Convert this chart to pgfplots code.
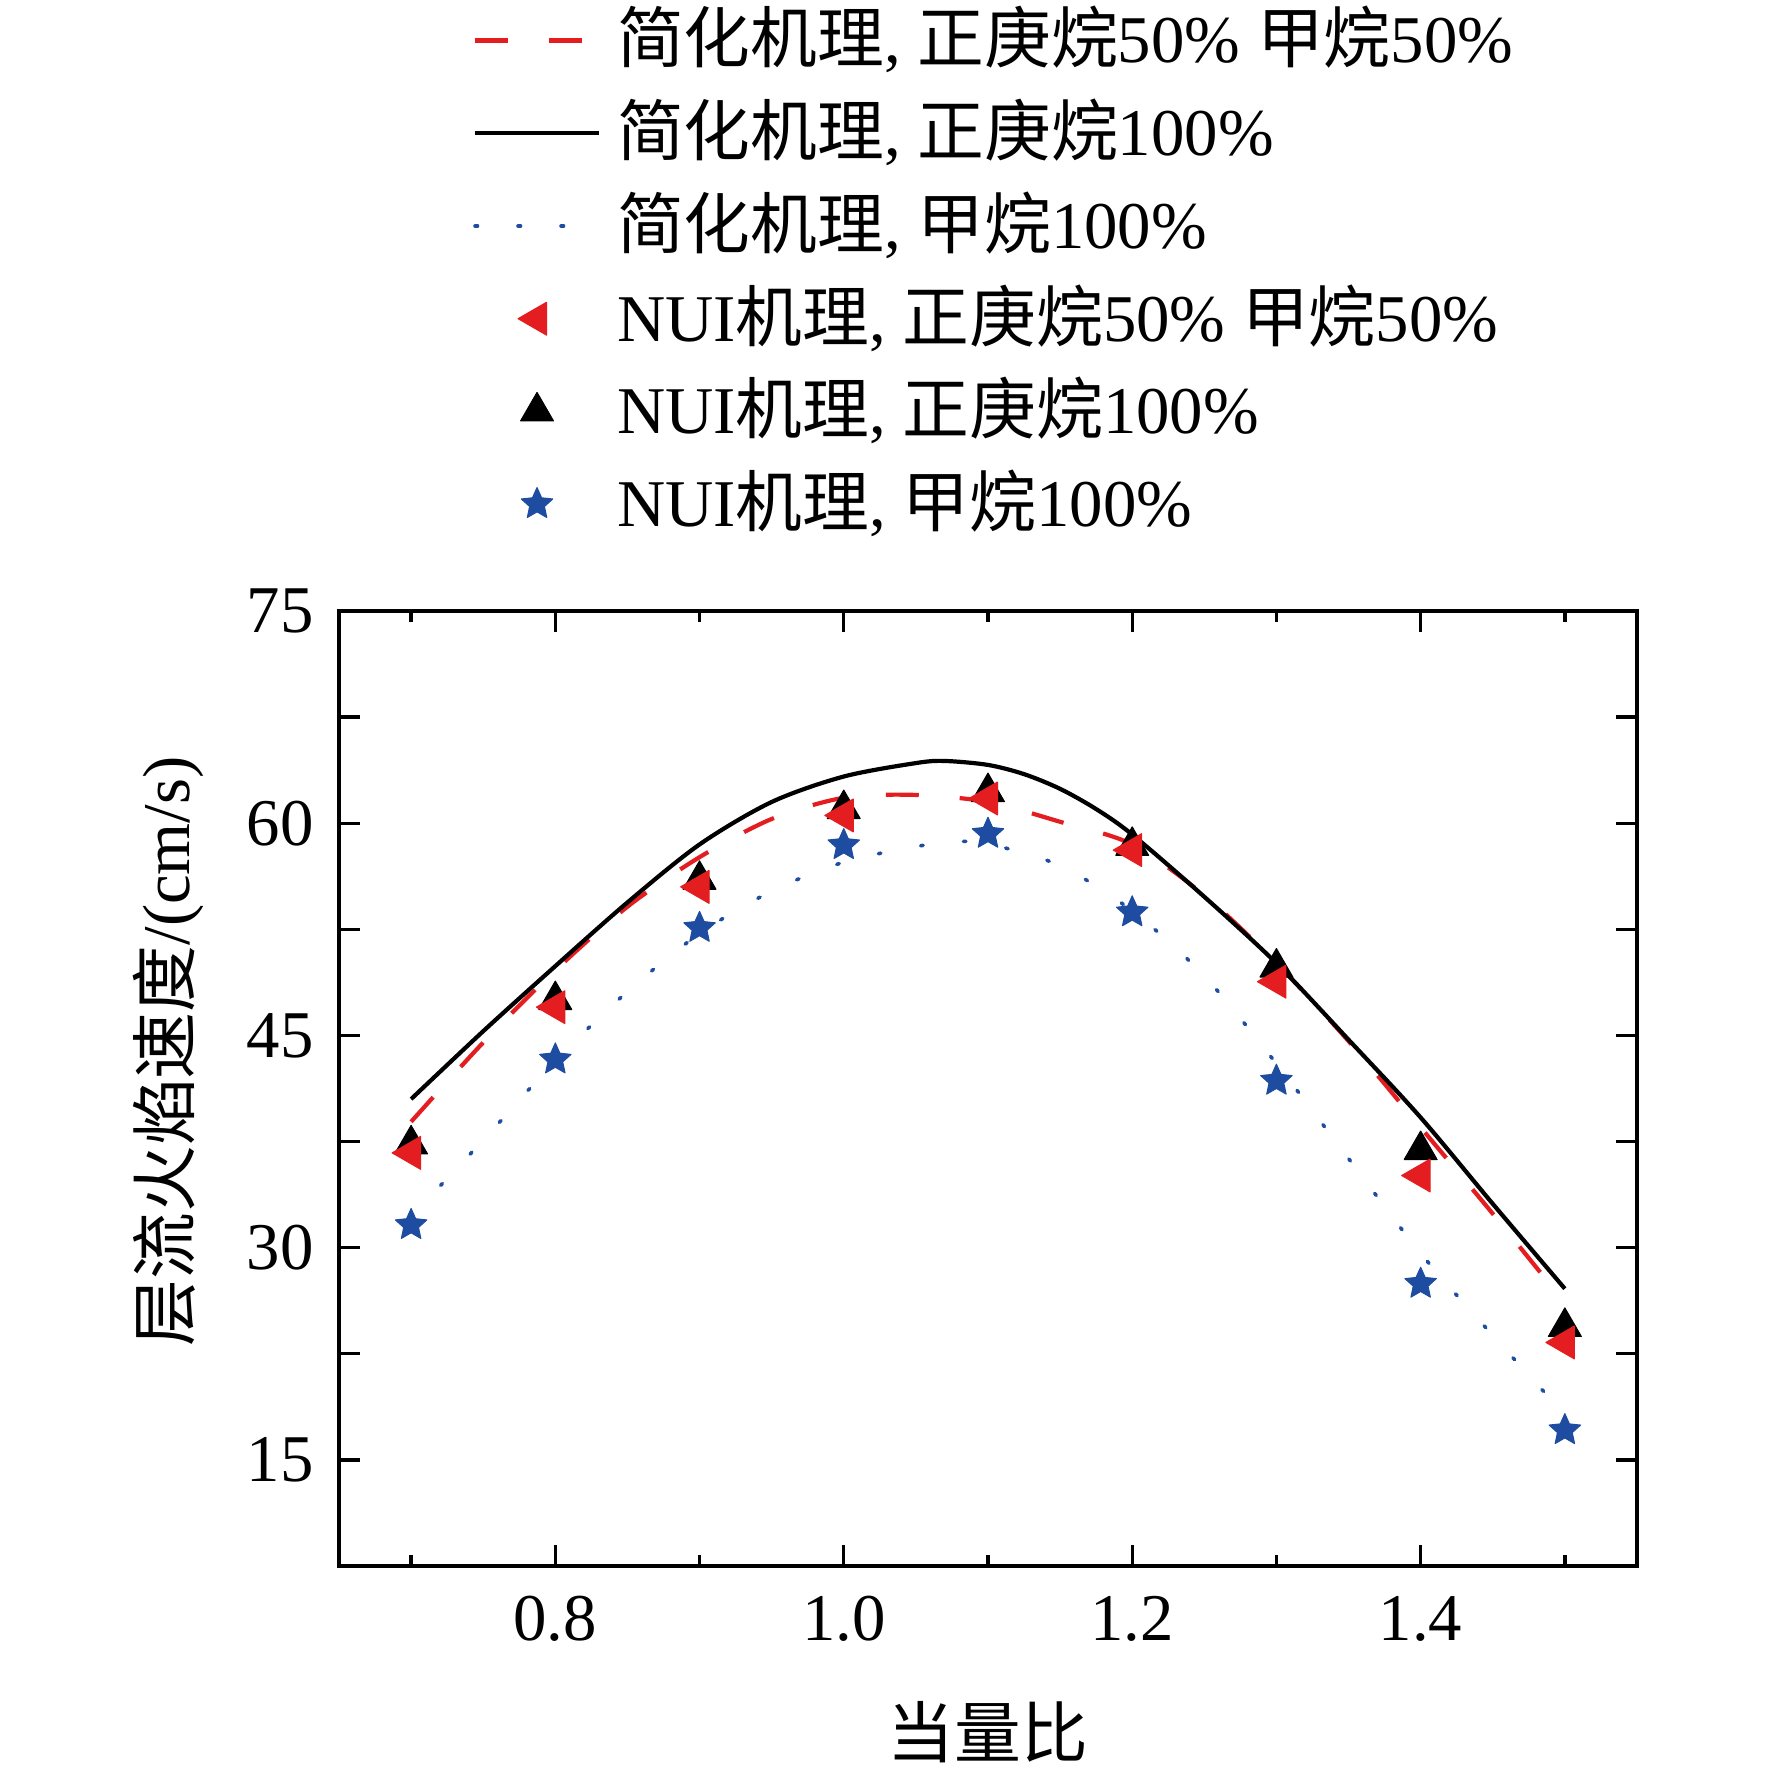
\documentclass[border=0pt]{standalone}
\usepackage{fontspec}
\setmainfont{Liberation Serif}
\newfontfamily\cjk{Noto Sans CJK SC}
\usepackage{pgfplots}
\pgfplotsset{compat=1.18}
\usetikzlibrary{plotmarks}
\definecolor{myred}{RGB}{228,30,32}
\definecolor{myblue}{RGB}{30,76,160}
\pgfdeclareplotmark{fstar}{%
  \pgfpathmoveto{\pgfpointpolar{90}{\pgfplotmarksize}}%
  \pgfpathlineto{\pgfpointpolar{126}{0.47\pgfplotmarksize}}%
  \pgfpathlineto{\pgfpointpolar{162}{\pgfplotmarksize}}%
  \pgfpathlineto{\pgfpointpolar{198}{0.47\pgfplotmarksize}}%
  \pgfpathlineto{\pgfpointpolar{234}{\pgfplotmarksize}}%
  \pgfpathlineto{\pgfpointpolar{270}{0.47\pgfplotmarksize}}%
  \pgfpathlineto{\pgfpointpolar{306}{\pgfplotmarksize}}%
  \pgfpathlineto{\pgfpointpolar{342}{0.47\pgfplotmarksize}}%
  \pgfpathlineto{\pgfpointpolar{18}{\pgfplotmarksize}}%
  \pgfpathlineto{\pgfpointpolar{54}{0.47\pgfplotmarksize}}%
  \pgfpathclose
  \pgfusepathqfillstroke
}
\pgfplotsset{
  mylegline/.style={legend image code/.code={\draw[##1] (0mm,0mm) -- (12.4mm,0mm);}},
  mylegmark/.style={legend image code/.code={\draw[##1] plot coordinates {(6.2mm,0mm)};}},
}
\begin{document}
\begin{tikzpicture}[font=\fontsize{19pt}{22pt}\selectfont]
\begin{axis}[
  at={(0,0)}, anchor=south west,
  scale only axis, width=129.8mm, height=95.5mm,
  xmin=0.65, xmax=1.55, ymin=7.5, ymax=75,
  xtick={0.8,1.0,1.2,1.4}, xticklabels={0.8,1.0,1.2,1.4},
  minor xtick={0.7,0.9,1.1,1.3,1.5},
  ytick={7.5,15,22.5,30,37.5,45,52.5,60,67.5,75},
  yticklabels={,15,,30,,45,,60,,75},
  tick align=inside,
  major tick length=2.1mm, minor tick length=1.1mm,
  tick style={black, line width=0.33mm},
  axis line style={line width=0.4mm},
  xticklabel style={yshift=-1.8mm},
  yticklabel style={xshift=-1.3mm},
  xlabel={\cjk 当量比},
  ylabel={{\cjk 层流火焰速度}/(cm/s)},
  xlabel style={at={(axis description cs:0.5,-0.174)}, anchor=center},
  ylabel style={at={(axis description cs:-0.1317,0.539)}, anchor=center},
  mylegline,
  legend cell align=left,
  legend style={draw=none, fill=none, inner sep=0pt, outer sep=0pt,
    at={(axis description cs:0.1032,1.6458)}, anchor=north west,
    row sep=0pt, column sep=1.6mm,
    nodes={inner sep=0pt, text height=6.87mm, text depth=2.40mm}},
]
% simplified mechanism, n-heptane 50% / methane 50%
\addplot[myred, line width=0.42mm, dash pattern=on 3.3mm off 4.1mm, smooth] coordinates {
(0.70,38.9) (0.75,44.5) (0.80,49.6) (0.85,54.1) (0.90,57.6) (0.95,60.3)
(1.00,61.8) (1.05,62.0) (1.10,61.5) (1.15,60.1) (1.20,58.5) (1.25,54.9)
(1.30,50.1) (1.35,44.6) (1.40,38.5) (1.45,32.4) (1.50,26.1)};
\addlegendentry{{\cjk 简化机理}, {\cjk 正庚烷}50\% {\cjk 甲烷}50\%}
% simplified mechanism, n-heptane 100%
\addplot[black, line width=0.42mm, smooth] coordinates {
(0.70,40.5) (0.75,45.3) (0.80,49.9) (0.85,54.4) (0.90,58.5) (0.95,61.5)
(1.00,63.3) (1.05,64.25) (1.07,64.4) (1.10,64.12) (1.125,63.47) (1.15,62.43)
(1.175,61.0) (1.20,59.2) (1.25,54.8) (1.30,50.1) (1.35,44.7) (1.40,39.2)
(1.45,33.1) (1.50,27.1)};
\addlegendentry{{\cjk 简化机理}, {\cjk 正庚烷}100\%}
% simplified mechanism, methane 100%
\addplot[myblue, line width=0.36mm, dash pattern=on 0.25mm off 4.05mm, line cap=round, smooth] coordinates {
(0.70,32.2) (0.75,37.6) (0.80,43.2) (0.85,48.1) (0.90,52.2) (0.95,55.2)
(1.00,57.25) (1.05,58.35) (1.08,58.7) (1.10,58.55) (1.15,57.0) (1.20,53.8)
(1.25,49.2) (1.30,43.0) (1.35,36.3) (1.40,29.6) (1.45,23.8) (1.50,18.2)};
\addlegendentry{{\cjk 简化机理}, {\cjk 甲烷}100\%}
\addlegendimage{mylegmark, only marks, mark=triangle*, mark size=5.4pt,
  mark options={rotate=90, fill=myred, draw=myred, line width=0.3pt, line join=round}}
\addlegendentry{NUI{\cjk 机理}, {\cjk 正庚烷}50\% {\cjk 甲烷}50\%}
\addlegendimage{mylegmark, only marks, mark=triangle*, mark size=5.4pt,
  mark options={fill=black, draw=black, line width=0.3pt, line join=round}}
\addlegendentry{NUI{\cjk 机理}, {\cjk 正庚烷}100\%}
\addlegendimage{mylegmark, only marks, mark=fstar, mark size=4.7pt,
  mark options={fill=myblue, draw=myblue, line width=0.3pt, line join=round}}
\addlegendentry{NUI{\cjk 机理}, {\cjk 甲烷}100\%}
% NUI mechanism, n-heptane 100%
\addplot[forget plot, only marks, mark=triangle*, mark size=5.4pt,
  mark options={fill=black, draw=black, line width=0.3pt, line join=round}] coordinates {
(0.7,37.3) (0.8,47.5) (0.9,56.0) (1.0,61.0) (1.1,62.2) (1.2,58.4) (1.3,49.8) (1.4,36.9) (1.5,24.4)};
% NUI mechanism, n-heptane 50% / methane 50%
\addplot[forget plot, only marks, mark=triangle*, mark size=5.4pt,
  mark options={rotate=90, fill=myred, draw=myred, line width=0.3pt, line join=round}] coordinates {
(0.7,36.7) (0.8,47.0) (0.9,55.5) (1.0,60.55) (1.1,61.75) (1.2,58.1) (1.3,48.8) (1.4,35.1) (1.5,23.3)};
% NUI mechanism, methane 100%
\addplot[forget plot, only marks, mark=fstar, mark size=4.7pt,
  mark options={fill=myblue, draw=myblue, line width=0.3pt, line join=round}] coordinates {
(0.7,31.6) (0.8,43.3) (0.9,52.6) (1.0,58.45) (1.1,59.25) (1.2,53.7) (1.3,41.8) (1.4,27.45) (1.5,17.1)};
\end{axis}
\pgfresetboundingbox
\useasboundingbox (-33.9mm,-20.0mm) rectangle (143.3mm,156.6mm);
\end{tikzpicture}
\end{document}
